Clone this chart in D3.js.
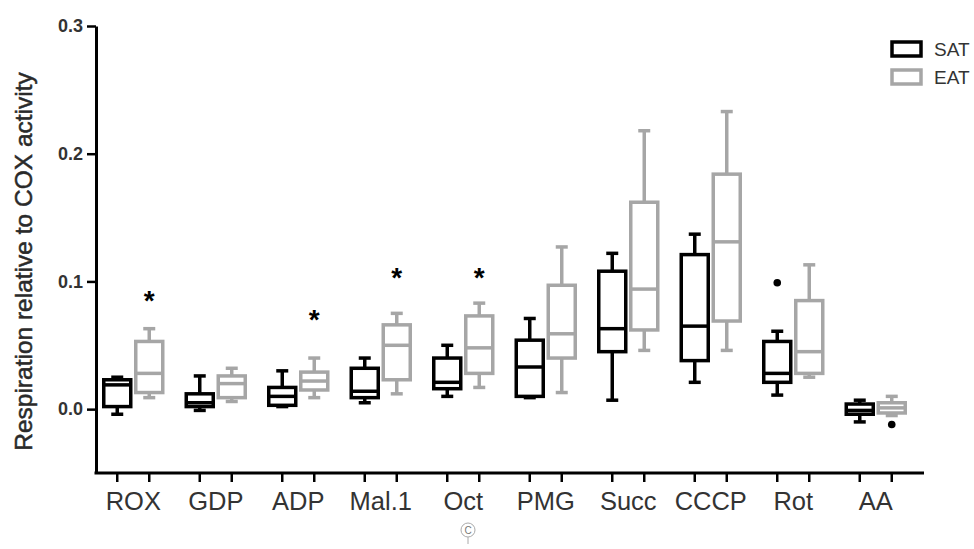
<!DOCTYPE html>
<html>
<head>
<meta charset="utf-8">
<script src="https://cdn.jsdelivr.net/npm/d3@7"></script>
<style>
  html, body { margin: 0; padding: 0; background: #fff; }
  svg { display: block; font-family: "Liberation Sans", Arial, sans-serif; }
</style>
</head>
<body>
<svg id="chart" width="974" height="549"></svg>
<script>
// ── 데이터 ──────────────────────────────────────────────────────────
const categories = ['ROX', 'GDP', 'ADP', 'Mal.1', 'Oct', 'PMG', 'Succ', 'CCCP', 'Rot', 'AA'];
const groups = ['SAT', 'EAT'];

// [min, q1, median, q3, max]
const satStats = [
  [-0.004, 0.002, 0.019, 0.023, 0.025],
  [-0.001, 0.002, 0.005, 0.012, 0.026],
  [0.002, 0.003, 0.010, 0.017, 0.030],
  [0.005, 0.009, 0.014, 0.032, 0.040],
  [0.010, 0.016, 0.021, 0.040, 0.050],
  [0.009, 0.010, 0.033, 0.054, 0.071],
  [0.007, 0.045, 0.063, 0.108, 0.122],
  [0.021, 0.038, 0.065, 0.121, 0.137],
  [0.011, 0.021, 0.028, 0.053, 0.061],
  [-0.010, -0.004, -0.001, 0.004, 0.007],
];
const eatStats = [
  [0.009, 0.013, 0.028, 0.053, 0.063],
  [0.006, 0.009, 0.020, 0.026, 0.032],
  [0.009, 0.015, 0.022, 0.029, 0.040],
  [0.012, 0.023, 0.050, 0.066, 0.075],
  [0.017, 0.028, 0.048, 0.073, 0.083],
  [0.013, 0.040, 0.059, 0.097, 0.127],
  [0.046, 0.062, 0.094, 0.162, 0.218],
  [0.046, 0.069, 0.131, 0.184, 0.233],
  [0.025, 0.028, 0.045, 0.085, 0.113],
  [-0.005, -0.003, 0.001, 0.005, 0.010],
];

const satOutliers = [{ cat: 'Rot', v: 0.099 }];
const eatOutliers = [{ cat: 'AA', v: -0.012 }];

const starCats   = ['ROX', 'ADP', 'Mal.1', 'Oct'];
const starValues = [0.090, 0.075, 0.108, 0.108];

const yTicks = [0.0, 0.1, 0.2, 0.3];
const yDomain = [-0.05, 0.3];
const yTitle = 'Respiration relative to COX activity';

// ── 스타일 ────────────────────────────────────────────────────────────────
const COLORS = { SAT: '#000000', EAT: '#a6a6a6' };
const BOX_W = 27;
const CAP_W = 12;
const LW = 3.5;

const svg = d3.select('#chart');

const y = d3.scaleLinear().domain(yDomain).range([473, 26]);
const x = d3.scaleBand().domain(categories).range([92, 917]);
const xSub = d3.scaleBand().domain(groups).range([-32, 32]);

const AXIS_X = 96;
const AXIS_Y = y(yDomain[0]);

function cx(cat, grp) {
  return x(cat) + x.bandwidth() / 2 + xSub(grp) + xSub.bandwidth() / 2;
}

// ── y 축 ──────────────────────────────────────────────────────────────────
const yAxis = svg.append('g')
  .attr('transform', `translate(${AXIS_X},0)`)
  .call(d3.axisLeft(y).tickValues(yTicks).tickFormat(d3.format('.1f'))
    .tickSize(9).tickSizeOuter(0).tickPadding(4));
yAxis.select('.domain').attr('stroke', '#000').attr('stroke-width', 3);
yAxis.selectAll('.tick line').attr('stroke', '#000').attr('stroke-width', 2.5);
yAxis.selectAll('.tick text')
  .attr('fill', '#333')
  .attr('font-size', 18)
  .attr('font-weight', 'bold')
  .attr('font-family', '"Liberation Sans", Arial, sans-serif');

svg.append('text')
  .attr('transform', `translate(32,${(y(yDomain[0]) + y(yDomain[1])) / 2 + 12}) rotate(-90)`)
  .attr('text-anchor', 'middle')
  .attr('fill', '#2a2a2a')
  .attr('stroke', '#2a2a2a')
  .attr('stroke-width', 0.5)
  .attr('font-size', 24.5)
  .text(yTitle);

// ── x 축 ──────────────────────────────────────────────────────────────────
svg.append('line')
  .attr('x1', AXIS_X - 1.5).attr('x2', 924)
  .attr('y1', AXIS_Y).attr('y2', AXIS_Y)
  .attr('stroke', '#000').attr('stroke-width', 3);

const subTicks = categories.flatMap(c => groups.map(g => ({ c, g })));
svg.append('g').selectAll('line')
  .data(subTicks)
  .join('line')
  .attr('x1', d => cx(d.c, d.g))
  .attr('x2', d => cx(d.c, d.g))
  .attr('y1', AXIS_Y).attr('y2', AXIS_Y + 9)
  .attr('stroke', '#000').attr('stroke-width', 2.5);

const xAxis = svg.append('g')
  .attr('transform', `translate(0,${AXIS_Y})`)
  .call(d3.axisBottom(x).tickSize(0).tickPadding(19));
xAxis.select('.domain').remove();
xAxis.selectAll('.tick text')
  .attr('fill', '#333')
  .attr('font-size', 25.5)
  .attr('font-family', '"Liberation Sans", Arial, sans-serif');

// ── 박스플롯 ──────────────────────────────────────────────────────────────
function drawBoxes(grp, stats) {
  const g = svg.append('g').attr('class', 'box-' + grp);
  const col = COLORS[grp];
  const rows = categories.map((c, i) => ({ c, s: stats[i] }));

  // 수염
  g.selectAll('.whisker-lo').data(rows).join('line')
    .attr('x1', d => cx(d.c, grp)).attr('x2', d => cx(d.c, grp))
    .attr('y1', d => y(d.s[0])).attr('y2', d => y(d.s[1]))
    .attr('stroke', col).attr('stroke-width', LW);
  g.selectAll('.whisker-hi').data(rows).join('line')
    .attr('x1', d => cx(d.c, grp)).attr('x2', d => cx(d.c, grp))
    .attr('y1', d => y(d.s[3])).attr('y2', d => y(d.s[4]))
    .attr('stroke', col).attr('stroke-width', LW);

  // 캡
  [0, 4].forEach(k => {
    g.selectAll('.cap' + k).data(rows).join('line')
      .attr('x1', d => cx(d.c, grp) - CAP_W / 2).attr('x2', d => cx(d.c, grp) + CAP_W / 2)
      .attr('y1', d => y(d.s[k])).attr('y2', d => y(d.s[k]))
      .attr('stroke', col).attr('stroke-width', LW);
  });

  // 박스
  g.selectAll('rect').data(rows).join('rect')
    .attr('x', d => cx(d.c, grp) - BOX_W / 2)
    .attr('width', BOX_W)
    .attr('y', d => y(d.s[3]))
    .attr('height', d => Math.max(0.5, y(d.s[1]) - y(d.s[3])))
    .attr('fill', '#fff')
    .attr('stroke', col).attr('stroke-width', LW);

  // 중앙값
  g.selectAll('.median').data(rows).join('line')
    .attr('x1', d => cx(d.c, grp) - BOX_W / 2).attr('x2', d => cx(d.c, grp) + BOX_W / 2)
    .attr('y1', d => y(d.s[2])).attr('y2', d => y(d.s[2]))
    .attr('stroke', col).attr('stroke-width', LW);
}

drawBoxes('SAT', satStats);
drawBoxes('EAT', eatStats);

// 이상치
svg.append('g').selectAll('circle')
  .data(satOutliers.map(o => ({ ...o, g: 'SAT' })).concat(eatOutliers.map(o => ({ ...o, g: 'EAT' }))))
  .join('circle')
  .attr('cx', d => cx(d.cat, d.g))
  .attr('cy', d => y(d.v))
  .attr('r', 3.8)
  .attr('fill', '#000');

// 유의성 별표 (EAT 위)
svg.append('g').selectAll('text')
  .data(starCats.map((c, i) => ({ c, v: starValues[i] })))
  .join('text')
  .attr('x', d => cx(d.c, 'EAT'))
  .attr('y', d => y(d.v) + 16)
  .attr('text-anchor', 'middle')
  .attr('font-size', 28)
  .attr('font-weight', 'bold')
  .attr('fill', '#000')
  .text('*');

// ── 범례 ──────────────────────────────────────────────────────────────────
const legend = svg.append('g').attr('transform', 'translate(892,42)');
groups.forEach((grp, i) => {
  const row = legend.append('g').attr('transform', `translate(0,${i * 28})`);
  row.append('rect')
    .attr('x', 0).attr('y', 0).attr('width', 29).attr('height', 14)
    .attr('fill', '#fff')
    .attr('stroke', COLORS[grp]).attr('stroke-width', LW);
  row.append('text')
    .attr('x', 42).attr('y', 7)
    .attr('dominant-baseline', 'central')
    .attr('fill', '#333')
    .attr('font-size', 19)
    .text(grp);
});

// ── 워터마크 아이콘 ────────────────────────────────────────────────────────
const wm = svg.append('g').attr('transform', 'translate(468,530)');
wm.append('circle').attr('r', 7).attr('fill', '#fff').attr('stroke', '#aaa').attr('stroke-width', 1);
wm.append('text').attr('text-anchor', 'middle').attr('dominant-baseline', 'central')
  .attr('font-size', 10).attr('fill', '#777').text('C');
wm.append('line').attr('x1', 0).attr('x2', 0).attr('y1', 7).attr('y2', 14)
  .attr('stroke', '#aaa').attr('stroke-width', 1);
</script>
</body>
</html>
